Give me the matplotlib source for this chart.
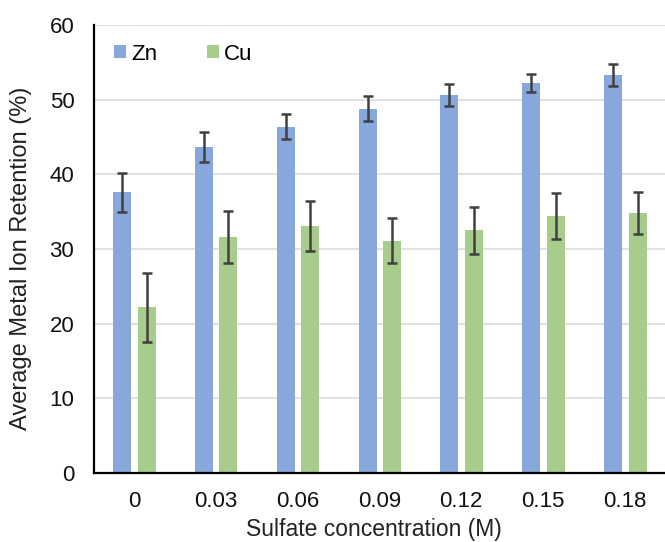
import matplotlib.pyplot as plt
import numpy as np

plt.rcParams['font.family'] = ['Liberation Sans', 'DejaVu Sans']

# data
conc = ['0', '0.03', '0.06', '0.09', '0.12', '0.15', '0.18']
zn = [37.6, 43.7, 46.4, 48.8, 50.6, 52.2, 53.3]
zn_err = [2.6, 2.0, 1.7, 1.7, 1.5, 1.2, 1.5]
cu = [22.2, 31.6, 33.1, 31.1, 32.5, 34.4, 34.8]
cu_err = [4.6, 3.5, 3.3, 3.0, 3.1, 3.1, 2.8]

x = np.arange(len(conc))
w = 0.22  # bar width

fig = plt.figure(figsize=(6.65, 5.42), dpi=100)
ax = fig.add_axes([0.141, 0.127, 0.859, 0.827])

ek = dict(ecolor='#404040', elinewidth=1.8, capsize=3.5, capthick=1.8)
ax.bar(x - 0.145, zn, w, yerr=zn_err, color='#88a8dd', label='Zn', error_kw=ek, zorder=2)
ax.bar(x + 0.155, cu, w, yerr=cu_err, color='#a7cc8c', label='Cu', error_kw=ek, zorder=2)

ax.set_ylim(0, 60)
ax.set_xlim(-0.49, 6.49)
ax.set_yticks(range(0, 61, 10))
ax.set_xticks(x)
ax.set_xticklabels(conc)
ax.tick_params(length=0, labelsize=16, labelcolor='#111111')
ax.tick_params(axis='y', pad=14)
ax.tick_params(axis='x', pad=13)
ax.yaxis.grid(True, color='#dcdcdc', linewidth=1.2, zorder=0)
ax.set_axisbelow(True)

for s in ['top', 'right']:
    ax.spines[s].set_visible(False)
for s in ['left', 'bottom']:
    ax.spines[s].set_linewidth(1.6)
    ax.spines[s].set_color('black')

ax.set_ylabel('Average Metal Ion Retention (%)', fontsize=17, color='#222222')
ax.set_xlabel('Sulfate concentration (M)', fontsize=16.5, color='#222222')
ax.yaxis.set_label_coords(-0.108, 0.48)
ax.xaxis.set_label_coords(0.49, -0.1)

ax.legend(loc='center left', bbox_to_anchor=(0.0, 0.935), ncol=2, frameon=False,
          fontsize=16, handlelength=0.55, handleheight=0.55, handletextpad=0.25,
          columnspacing=2.2)

plt.savefig('out.png', dpi=100)
